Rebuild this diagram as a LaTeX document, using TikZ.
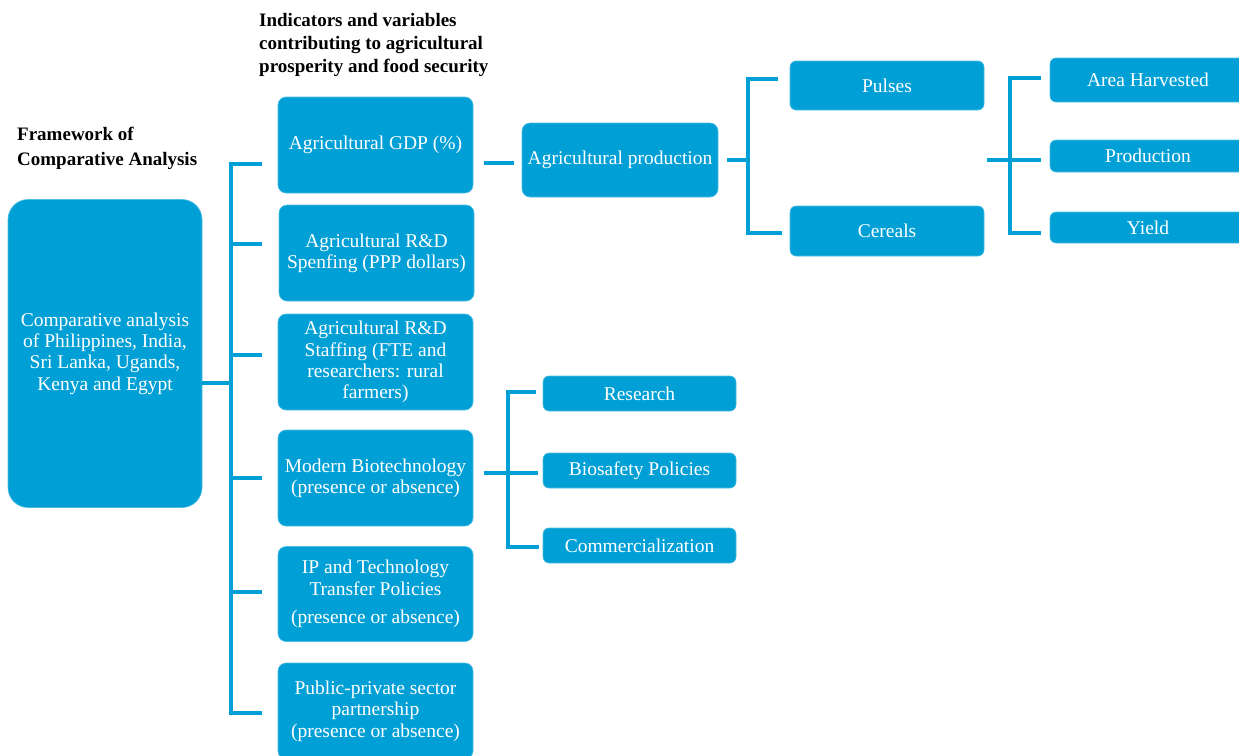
\documentclass[tikz,border=0pt]{standalone}
\usepackage{fontspec}
\setmainfont{Liberation Serif}
\definecolor{boxblue}{RGB}{0,160,214}
\begin{document}
\begin{tikzpicture}[x=1pt,y=-1pt,
  box/.style={fill=boxblue, draw=boxblue!70!white, line width=0.6pt, rounded corners=8pt,
    text=white, align=center, font=\fontsize{19.5}{21.3}\selectfont, inner sep=0pt},
  smallbox/.style={box, rounded corners=6pt},
  link/.style={draw=boxblue, line width=3.5pt},
  title/.style={anchor=north west, align=left, inner sep=0pt, text=black}
]
\clip (0,0) rectangle (1239,755);

% titles
\node[title, font=\bfseries\fontsize{19}{23}\selectfont] (ttl1) at (259,13)
  {Indicators and variables\\contributing to agricultural\\prosperity and food security};
\node[title, font=\bfseries\fontsize{19}{25}\selectfont] (ttl2) at (17,127)
  {Framework of\\Comparative Analysis};

% main box
\node[box, rounded corners=20pt, minimum width=194pt, minimum height=308pt] (main) at (105,353.5)
  {Comparative analysis\\of Philippines, India,\\Sri Lanka, Ugands,\\Kenya and Egypt};

% second column
\node[box, minimum width=195pt, minimum height=96pt] (b1) at (375.5,145) {Agricultural GDP (\%)};
\node[box, minimum width=195pt, minimum height=96pt] (b2) at (376.5,253) {Agricultural R\&D\\Spenfing (PPP dollars)};
\node[box, minimum width=195pt, minimum height=96pt] (b3) at (375.5,362) {Agricultural R\&D\\Staffing (FTE and\\researchers: rural\\farmers)};
\node[box, minimum width=195pt, minimum height=96pt] (b4) at (375.5,478) {Modern Biotechnology\\(presence or absence)};
\node[box, minimum width=195pt, minimum height=95pt] (b5) at (375.5,594) {IP and Technology\\Transfer Policies\\[7pt](presence or absence)};
\node[box, minimum width=195pt, minimum height=96pt] (b6) at (375.5,711) {Public-private sector\\partnership\\(presence or absence)};

% production branch
\node[box, minimum width=196pt, minimum height=74pt] (ap) at (620,160) {Agricultural production};
\node[smallbox, minimum width=194pt, minimum height=49pt] (pul) at (887,85.5) {Pulses};
\node[smallbox, minimum width=194pt, minimum height=50pt] (cer) at (887,231) {Cereals};
\node[smallbox, minimum width=196pt, minimum height=44pt] (area) at (1148,80) {Area Harvested};
\node[smallbox, minimum width=196pt, minimum height=32pt] (prod) at (1148,156) {Production};
\node[smallbox, minimum width=196pt, minimum height=31pt] (yld) at (1148,227.5) {Yield};

% biotech branch
\node[smallbox, minimum width=193pt, minimum height=35pt] (res) at (639.5,393.5) {Research};
\node[smallbox, minimum width=193pt, minimum height=35pt] (bio) at (639.5,470.5) {Biosafety Policies};
\node[smallbox, minimum width=193pt, minimum height=35pt] (com) at (639.5,545.5) {Commercialization};

% main bus
\coordinate (j0) at (231,383);
\coordinate (t1) at (262,164);
\coordinate (t2) at (262,244);
\coordinate (t3) at (262,355);
\coordinate (t4) at (262,478);
\coordinate (t5) at (262,592);
\coordinate (t6) at (262,713);
\draw[link] (main.east |- j0) -- (j0);
\draw[link] (t1) -- (t1 -| j0) -- (t6 -| j0) -- (t6);
\draw[link] (t2 -| j0) -- (t2);
\draw[link] (t3 -| j0) -- (t3);
\draw[link] (t4 -| j0) -- (t4);
\draw[link] (t5 -| j0) -- (t5);

% GDP -> agricultural production
\draw[link] ([xshift=11pt]b1.east |- 0,163) -- ([xshift=-8pt]ap.west |- 0,163);

% agricultural production -> pulses / cereals
\coordinate (k0) at (748,160);
\coordinate (kp) at (778,79);
\coordinate (kc) at (782,233);
\draw[link] ([xshift=9pt]ap.east) -- (k0);
\draw[link] (kp) -- (kp -| k0) -- (kc -| k0) -- (kc);

% cereals/pulses -> area, production, yield
\coordinate (m0) at (987,160);
\coordinate (m1) at (1041,160);
\coordinate (ma) at (1041,78);
\coordinate (my) at (1041,233);
\coordinate (mx) at (1010,160);
\draw[link] (m0) -- (m1);
\draw[link] (ma) -- (ma -| mx) -- (my -| mx) -- (my);

% biotechnology -> research, biosafety, commercialization
\coordinate (n0) at (484,473);
\coordinate (n1) at (538,473);
\coordinate (nr) at (536,392);
\coordinate (nc) at (539,547);
\coordinate (nx) at (508,473);
\draw[link] (n0) -- (n1);
\draw[link] (nr) -- (nr -| nx) -- (nc -| nx) -- (nc);
\end{tikzpicture}
\end{document}
